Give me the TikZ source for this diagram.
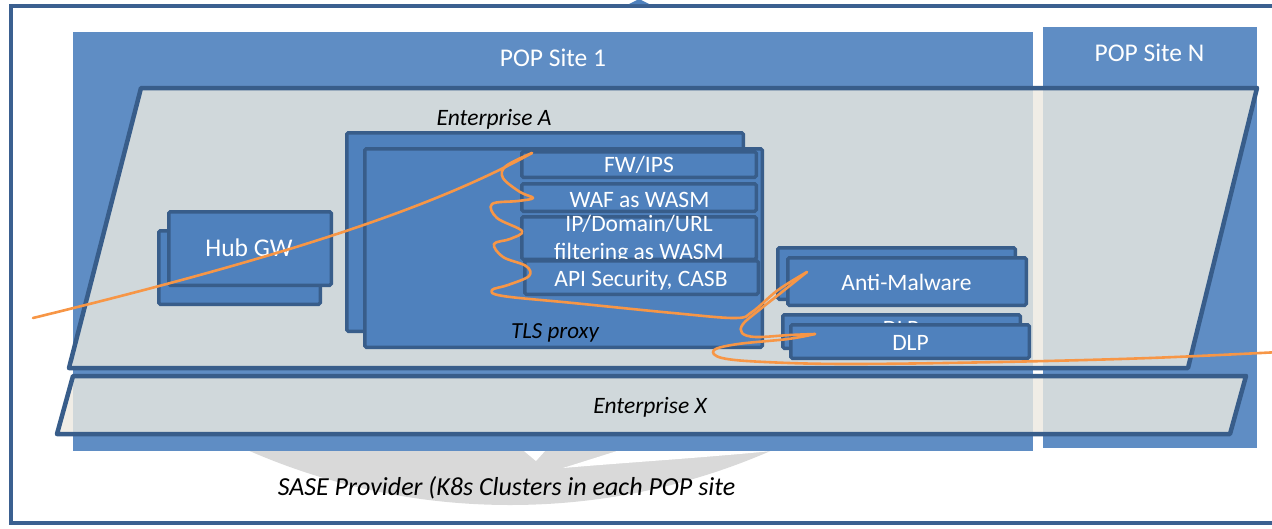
\documentclass[tikz,border=0pt]{standalone}
\usepackage{fontspec}
\setmainfont{Carlito}
\definecolor{framec}{HTML}{3B6090}
\definecolor{popfill}{HTML}{5F8DC4}
\definecolor{edgec}{HTML}{385D8A}
\definecolor{boxfill}{HTML}{4F81BD}
\definecolor{entfill}{HTML}{D0D8DB}
\definecolor{beige}{HTML}{F0EDE6}
\definecolor{arcgray}{HTML}{D9D9D9}
\definecolor{flowc}{HTML}{F79646}
\begin{document}
\begin{tikzpicture}[x=1pt,y=-1pt,
  frameline/.style={draw=framec,line width=4.5pt},
  popsite/.style={fill=popfill,inner sep=0pt,outer sep=0pt},
  entedge/.style={draw=edgec,line width=4.5pt,line join=round},
  svcbox/.style={draw=edgec,fill=boxfill,line width=3.5pt,rounded corners=1.5pt,inner sep=0pt},
  whitelbl/.style={text=white,anchor=base,inner sep=0pt,font=\fontsize{23.5}{28}\selectfont},
  poplbl/.style={text=white,anchor=base,inner sep=0pt,font=\fontsize{25.5}{30}\selectfont},
  itlbl/.style={text=black,anchor=base,inner sep=0pt,font=\fontsize{23.5}{28}\selectfont\itshape},
  flow/.style={draw=flowc,line width=2.6pt,line cap=round,line join=round}]

\useasboundingbox (0,0) rectangle (1272,528);

% provider frame with its top marker
\draw[frameline] (1285,6) -- (11,6) -- (11,523) -- (1285,523);
\fill[boxfill] (629,4) -- (639,-1) -- (649,4) -- cycle;

% grey radial backdrop, visible below the POP sites
\begin{scope}
  \clip (0,440) rectangle (1272,528);
  \fill[arcgray] (510,-148) circle (653pt);
  \fill[white] (563,468) -- (617,451) -- (772,451) .. controls (700,458) and (620,463) .. (563,468) -- cycle;
  \fill[white] (524,451) -- (545,451) -- (536,461) -- cycle;
\end{scope}

% POP sites
\node[popsite,minimum width=960pt,minimum height=419pt] (pop1) at (553,241.5) {};
\node[popsite,minimum width=214pt,minimum height=421pt] (popN) at (1150,237.5) {};
\node[poplbl] (pop1L) at (553,66.5) {POP Site 1};
\node[poplbl] (popNL) at (1149.5,61.5) {POP Site N};

% enterprise slices across the sites
\def\entApath{(141,88) -- (1257,88) -- (1188,368) -- (69,368) -- cycle}
\def\entXpath{(73,376) -- (1246,376) -- (1230,434) -- (57,434) -- cycle}
\fill[beige] \entApath;
\fill[beige] \entXpath;
\begin{scope}
  \clip \entApath;
  \fill[entfill] (pop1.north west) rectangle (pop1.south east);
  \fill[entfill] (popN.north west) rectangle (popN.south east);
\end{scope}
\begin{scope}
  \clip \entXpath;
  \fill[entfill] (pop1.north west) rectangle (pop1.south east);
  \fill[entfill] (popN.north west) rectangle (popN.south east);
\end{scope}
\draw[entedge] \entApath;
\draw[entedge] \entXpath;
\node[itlbl] (entAL) at (494,125) {Enterprise A};
\node[itlbl] (entXL) at (650,413) {Enterprise X};
\node[itlbl,font=\fontsize{26}{30}\selectfont\itshape] (saseL) at (506.5,495) {SASE Provider (K8s Clusters in each POP site};

% hub gateway
\node[svcbox,minimum width=161.5pt,minimum height=73.5pt] (hubB) at (239.5,267.5) {};
\node[svcbox,minimum width=162.5pt,minimum height=73.5pt] (hub) at (250,248.5) {};
\node[poplbl] (hubL) at (249,256.5) {Hub GW};

% TLS proxy with its service chain
\node[svcbox,minimum width=396.5pt,minimum height=198.5pt] (tlsB) at (545,232) {};
\node[svcbox,minimum width=397.5pt,minimum height=198.5pt] (tls) at (563.5,248) {};
\node[itlbl,font=\fontsize{23}{28}\selectfont\itshape] (tlsL) at (555,338) {TLS proxy};
\node[svcbox,minimum width=234.5pt,minimum height=25.5pt] (fw) at (639,164.5) {};
\node[whitelbl] (fwL) at (639,172.5) {FW/IPS};
\node[svcbox,minimum width=234.5pt,minimum height=27.5pt] (waf) at (639,197.5) {};
\node[whitelbl] (wafL) at (639.5,207.3) {WAF as WASM};
\node[svcbox,minimum width=234.5pt,minimum height=42.5pt] (ip) at (639,238) {};
\node[whitelbl] (ipL1) at (639,231.7) {IP/Domain/URL};
\node[whitelbl] (ipL2) at (639,259.7) {filtering as WASM};
\node[svcbox,minimum width=233.5pt,minimum height=33.5pt] (api) at (641.5,277.5) {};
\node[whitelbl] (apiL) at (641,286.7) {API Security, CASB};

% stand-alone inspection services
\node[svcbox,minimum width=237.5pt,minimum height=51.5pt] (amB) at (896.5,273.5) {};
\node[svcbox,minimum width=238.5pt,minimum height=47.5pt] (am) at (907,281.5) {};
\node[whitelbl] (amL) at (906.5,290) {Anti-Malware};
\node[svcbox,minimum width=237.5pt,minimum height=33.5pt] (dlpB) at (901.5,331.5) {};
\node[whitelbl] (dlpBL) at (901,336) {DLP};
\node[svcbox,minimum width=238.5pt,minimum height=33.5pt] (dlp) at (910,341.5) {};
\node[whitelbl] (dlpL) at (910.5,350) {DLP};

% traffic flow through the chain
\coordinate (inL) at (33,318);
\coordinate (fwTip) at (532,153);
\coordinate (amTip) at (807,272);
\coordinate (dlpTip) at (815,334);
\coordinate (outR) at (1280,352);
\draw[flow] (inL) .. controls (250,265) and (420,215) .. (fwTip);
\draw[flow] plot[smooth,tension=0.6] coordinates {(fwTip) (506,166) (503,178) (520,192) (533,198) (518,201) (492,204) (497,218) (522,231) (510,239) (494,244) (503,257) (526,266) (529,276) (508,285) (492,290) (503,296) (573,303) (673,313) (735,318) (752,312) (778,290) (amTip)};
\draw[flow] plot[smooth,tension=0.6] coordinates {(amTip) (782,292) (758,311) (743,324) (742,333) (756,337) (790,335) (dlpTip)};
\draw[flow] plot[smooth,tension=0.6] coordinates {(dlpTip) (788,339) (738,344) (714,350) (722,358) (765,362) (850,364) (1000,362) (1150,358) (outR)};
\end{tikzpicture}
\end{document}
